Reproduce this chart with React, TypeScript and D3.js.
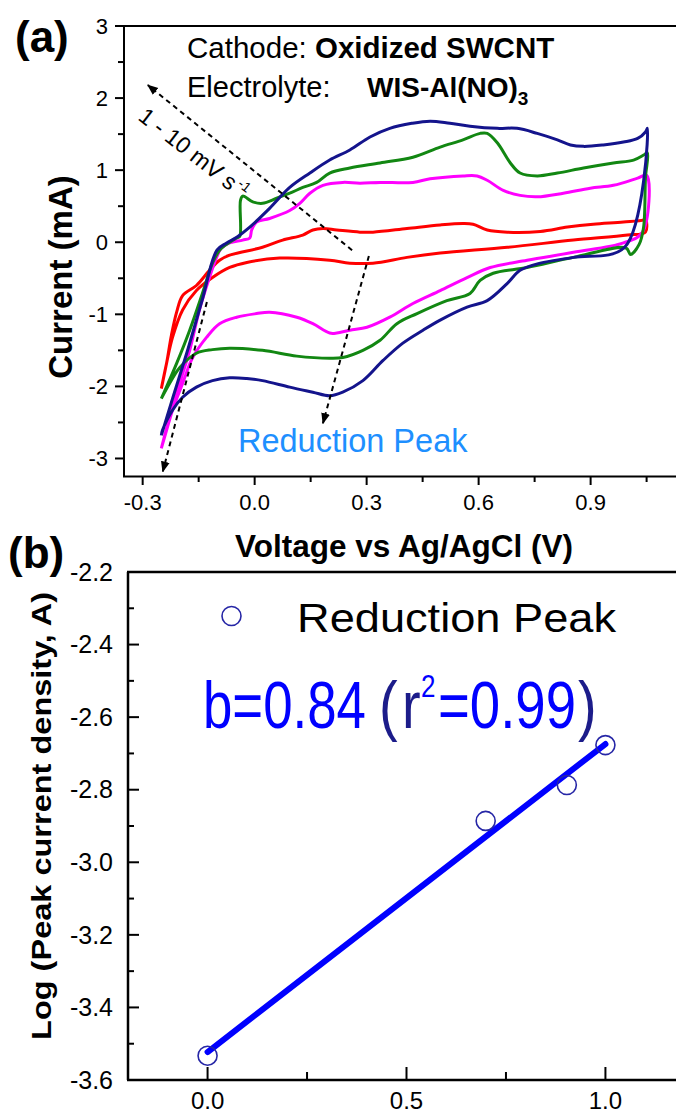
import React from "react";
import * as d3 from "d3";

// ---------- Panel (a): cyclic voltammograms (V vs Ag/AgCl, mA) ----------
// 1 mV/s (red)
const cv1V = [-0.25, -0.236, -0.223, -0.209, -0.193, -0.156, -0.121, -0.094, -0.067, 0.021, 0.075, 0.129, 0.156, 0.183, 0.22, 0.282, 0.317, 0.408, 0.497, 0.558, 0.585, 0.623, 0.677, 0.765, 0.838, 0.907, 0.988, 1.042, 1.047,
  1.047, 0.999, 0.854, 0.677, 0.497, 0.408, 0.317, 0.255, 0.201, 0.067, -0.021, -0.067, -0.113, -0.156, -0.193, -0.22, -0.236, -0.25];
const cv1I = [-2.03, -1.68, -1.29, -0.97, -0.74, -0.6, -0.39, -0.25, -0.18, -0.07, 0.03, 0.1, 0.17, 0.19, 0.17, 0.14, 0.14, 0.19, 0.24, 0.26, 0.25, 0.17, 0.14, 0.15, 0.21, 0.25, 0.28, 0.31, 0.33,
  0.14, 0.1, 0.03, -0.07, -0.15, -0.21, -0.29, -0.29, -0.25, -0.22, -0.28, -0.35, -0.49, -0.67, -0.94, -1.32, -1.68, -2.03];

// 5 mV/s (magenta)
const cv5V = [-0.25, -0.228, -0.201, -0.174, -0.148, -0.121, -0.102, -0.089, -0.067, -0.032, -0.013, -0.008, 0.005, 0.04, 0.094, 0.121, 0.148, 0.183, 0.236, 0.282, 0.336, 0.424, 0.47, 0.558, 0.596, 0.623, 0.666, 0.711, 0.757, 0.827, 0.899, 0.961, 1.026, 1.05,
  1.039, 0.988, 0.854, 0.73, 0.631, 0.569, 0.497, 0.424, 0.362, 0.301, 0.255, 0.22, 0.201, 0.156, 0.113, 0.04, 0.005, -0.048, -0.094, -0.129, -0.166, -0.193, -0.22, -0.236, -0.25];
const cv5I = [-2.86, -2.43, -1.96, -1.5, -0.94, -0.49, -0.21, -0.08, -0.01, 0.03, 0.06, 0.17, 0.28, 0.33, 0.44, 0.54, 0.68, 0.79, 0.83, 0.82, 0.83, 0.83, 0.88, 0.92, 0.92, 0.86, 0.72, 0.65, 0.63, 0.68, 0.75, 0.79, 0.89, 0.93,
  0.14, -0.01, -0.14, -0.25, -0.35, -0.49, -0.67, -0.85, -1.04, -1.18, -1.22, -1.26, -1.26, -1.13, -1.04, -0.97, -0.99, -1.04, -1.13, -1.32, -1.6, -1.96, -2.33, -2.61, -2.86];

// 8 mV/s (green)
const cv8V = [-0.25, -0.209, -0.174, -0.14, -0.113, -0.094, -0.067, -0.048, -0.04, -0.038, -0.032, -0.005, 0.021, 0.059, 0.094, 0.129, 0.166, 0.201, 0.255, 0.336, 0.424, 0.497, 0.558, 0.604, 0.623, 0.65, 0.685, 0.711, 0.757, 0.811, 0.881, 0.961, 1.015, 1.042, 1.052,
  1.047, 1.042, 1.03, 1.007, 0.995, 0.854, 0.73, 0.639, 0.604, 0.577, 0.515, 0.435, 0.381, 0.336, 0.29, 0.236, 0.201, 0.113, 0.021, -0.067, -0.113, -0.156, -0.201, -0.228, -0.25];
const cv8I = [-2.17, -1.68, -1.22, -0.71, -0.29, -0.11, 0.0, 0.06, 0.08, 0.58, 0.64, 0.56, 0.54, 0.61, 0.68, 0.76, 0.83, 0.96, 1.03, 1.1, 1.18, 1.32, 1.42, 1.51, 1.51, 1.38, 1.1, 0.96, 0.92, 0.96, 1.03, 1.1, 1.14, 1.21, 1.24,
  0.9, 0.21, -0.03, -0.17, -0.08, -0.21, -0.35, -0.43, -0.53, -0.71, -0.81, -0.99, -1.13, -1.36, -1.5, -1.6, -1.61, -1.58, -1.5, -1.47, -1.49, -1.54, -1.74, -1.96, -2.17];

// 10 mV/s (navy)
const cv10V = [-0.25, -0.22, -0.178, -0.141, -0.101, -0.075, -0.048, -0.013, 0.04, 0.094, 0.148, 0.201, 0.255, 0.309, 0.362, 0.421, 0.47, 0.523, 0.577, 0.65, 0.703, 0.757, 0.811, 0.846, 0.881, 0.934, 0.988, 1.026, 1.047, 1.052,
  0.991, 0.854, 0.765, 0.711, 0.677, 0.623, 0.569, 0.497, 0.451, 0.397, 0.344, 0.29, 0.236, 0.201, 0.156, 0.094, 0.021, -0.021, -0.067, -0.113, -0.156, -0.193, -0.22, -0.247, -0.25];
const cv10I = [-2.68, -2.17, -1.47, -0.81, -0.11, -0.01, 0.07, 0.21, 0.47, 0.76, 0.96, 1.14, 1.28, 1.46, 1.58, 1.65, 1.68, 1.65, 1.61, 1.58, 1.58, 1.51, 1.42, 1.35, 1.33, 1.35, 1.39, 1.44, 1.53, 1.58,
  -0.07, -0.21, -0.29, -0.39, -0.57, -0.81, -0.9, -1.08, -1.22, -1.4, -1.64, -1.92, -2.08, -2.13, -2.08, -2.01, -1.92, -1.89, -1.88, -1.92, -2.01, -2.15, -2.33, -2.61, -2.68];

const seriesColors = ["#ff0000", "#ff00ff", "#128712", "#14148c"];

// Axis ticks panel (a)
const aXMajor = [-0.3, 0, 0.3, 0.6, 0.9];
const aXLabels = ["-0.3", "0.0", "0.3", "0.6", "0.9"];
const aXMinor = [-0.15, 0.15, 0.45, 0.75, 1.05];
const aYMajor = [-3, -2, -1, 0, 1, 2, 3];
const aYLabels = ["-3", "-2", "-1", "0", "1", "2", "3"];
const aYMinor = [-2.5, -1.5, -0.5, 0.5, 1.5, 2.5];

// Annotation arrows (data coords of panel a): [x1, y1, x2(head), y2(head)]
const arrowRate = [0.261, -0.11, -0.286, 2.18];
const arrowPeak = [0.306, -0.19, 0.183, -2.51];
const arrowLow = [-0.128, -0.83, -0.246, -3.18];

// ---------- Panel (b): log peak current vs log scan rate ----------
const logScanRate = [0, 0.699, 0.903, 1.0];
const logPeakCurrent = [-3.533, -2.886, -2.787, -2.677];
const bXMajor = [0, 0.5, 1.0];
const bXLabels = ["0.0", "0.5", "1.0"];
const bXMinor = [0.25, 0.75];
const bYMajor = [-3.6, -3.4, -3.2, -3.0, -2.8, -2.6, -2.4, -2.2];
const bYLabels = ["-3.6", "-3.4", "-3.2", "-3.0", "-2.8", "-2.6", "-2.4", "-2.2"];
const bYMinor = [-3.5, -3.3, -3.1, -2.9, -2.7, -2.5, -2.3];

const FONT = "'Liberation Sans', Arial, Helvetica, sans-serif";

export default function App() {
  const xa = d3.scaleLinear().domain([-0.35, 1.2]).range([124, 702.6]);
  const ya = d3.scaleLinear().domain([-3.25, 3]).range([476.5, 26]);
  const xb = d3.scaleLinear().domain([-0.2, 1.2]).range([128, 685]);
  const yb = d3.scaleLinear().domain([-3.6, -2.2]).range([1080, 572]);

  const lineA = d3
    .line<[number, number]>()
    .x((d) => xa(d[0]))
    .y((d) => ya(d[1]))
    .curve(d3.curveCatmullRom.alpha(0.5));

  const curves = [
    [cv1V, cv1I],
    [cv5V, cv5I],
    [cv8V, cv8I],
    [cv10V, cv10I],
  ].map(([v, i]) => v.map((x, k) => [x, i[k]] as [number, number]));

  // least-squares fit
  const mx = d3.mean(logScanRate)!;
  const my = d3.mean(logPeakCurrent)!;
  let sxy = 0,
    sxx = 0;
  logScanRate.forEach((x, k) => {
    sxy += (x - mx) * (logPeakCurrent[k] - my);
    sxx += (x - mx) * (x - mx);
  });
  const slope = sxy / sxx;
  const icpt = my - slope * mx;
  const [fx0, fx1] = d3.extent(logScanRate) as [number, number];

  const arrow = (a: number[], key: string) => (
    <line
      key={key}
      x1={xa(a[0])}
      y1={ya(a[1])}
      x2={xa(a[2])}
      y2={ya(a[3])}
      stroke="#000"
      strokeWidth={2}
      strokeDasharray="5,4"
      markerEnd="url(#ah)"
    />
  );

  return (
    <div style={{ position: "absolute", left: 0, top: 0 }}>
      <svg width={676} height={1115} style={{ display: "block", background: "#fff" }} fontFamily={FONT}>
        <defs>
          <marker id="ah" viewBox="0 0 10 10" refX="9" refY="5" markerWidth="11" markerHeight="11" markerUnits="userSpaceOnUse" orient="auto">
            <path d="M0,1 L10,5 L0,9 Z" fill="#000" />
          </marker>
        </defs>

        {/* ===== Panel (a) ===== */}
        <text x={15} y={52} fontSize={44} fontWeight="bold">(a)</text>

        {curves.map((pts, k) => (
          <path key={k} d={lineA(pts) || ""} fill="none" stroke={seriesColors[k]} strokeWidth={3} strokeLinejoin="round" />
        ))}

        {arrow(arrowRate, "r")}
        {arrow(arrowPeak, "p")}
        {arrow(arrowLow, "l")}

        {/* axes a */}
        <line x1={124} y1={26} x2={124} y2={476.5} stroke="#000" strokeWidth={2} />
        <line x1={123} y1={26} x2={676} y2={26} stroke="#000" strokeWidth={2} />
        <line x1={123} y1={476.5} x2={676} y2={476.5} stroke="#000" strokeWidth={2} />
        {aYMajor.map((v, k) => (
          <g key={"ay" + k}>
            <line x1={115} x2={124} y1={ya(v)} y2={ya(v)} stroke="#000" strokeWidth={2} />
            <text x={108} y={ya(v)} dy="0.35em" textAnchor="end" fontSize={22}>{aYLabels[k]}</text>
          </g>
        ))}
        {aYMinor.map((v, k) => (
          <line key={"aym" + k} x1={118} x2={124} y1={ya(v)} y2={ya(v)} stroke="#000" strokeWidth={2} />
        ))}
        {aXMajor.map((v, k) => (
          <g key={"ax" + k}>
            <line x1={xa(v)} x2={xa(v)} y1={476.5} y2={485} stroke="#000" strokeWidth={2} />
            <text x={xa(v)} y={510} textAnchor="middle" fontSize={22}>{aXLabels[k]}</text>
          </g>
        ))}
        {aXMinor.map((v, k) => (
          <line key={"axm" + k} x1={xa(v)} x2={xa(v)} y1={476.5} y2={482} stroke="#000" strokeWidth={2} />
        ))}

        <text transform="translate(72,277) rotate(-90)" textAnchor="middle" fontSize={33} fontWeight="bold">Current (mA)</text>
        <text x={404} y={557} textAnchor="middle" fontSize={31.5} fontWeight="bold">Voltage vs Ag/AgCl (V)</text>

        <text x={187} y={58} fontSize={29.5}>
          Cathode: <tspan fontWeight="bold">Oxidized SWCNT</tspan>
        </text>
        <text x={187} y={97} fontSize={29}>Electrolyte:</text>
        <text x={367} y={97} fontSize={28} fontWeight="bold">
          WIS-Al(NO)<tspan fontSize={19} dy={8}>3</tspan>
        </text>

        <text transform="translate(137,119) rotate(38)" fontSize={23}>
          1 - 10 mV s<tspan fontSize={14} dx={2} dy={-9}>-1</tspan>
        </text>

        <text x={238} y={452} fontSize={32.5} fill="#1e8fff">Reduction Peak</text>

        {/* ===== Panel (b) ===== */}
        <text x={8} y={568} fontSize={44} fontWeight="bold">(b)</text>

        <line
          x1={xb(fx0)}
          y1={yb(icpt + slope * fx0)}
          x2={xb(fx1)}
          y2={yb(icpt + slope * fx1)}
          stroke="#0000ff"
          strokeWidth={6}
          strokeLinecap="round"
        />
        {logScanRate.map((x, k) => (
          <circle key={"pt" + k} cx={xb(x)} cy={yb(logPeakCurrent[k])} r={9.5} fill="none" stroke="#2626a6" strokeWidth={1.6} />
        ))}

        <line x1={128} y1={572} x2={128} y2={1080} stroke="#000" strokeWidth={2.5} />
        <line x1={127} y1={572} x2={676} y2={572} stroke="#000" strokeWidth={2.5} />
        <line x1={127} y1={1080} x2={676} y2={1080} stroke="#000" strokeWidth={2.5} />
        {bYMajor.map((v, k) => (
          <g key={"by" + k}>
            <line x1={128} x2={139} y1={yb(v)} y2={yb(v)} stroke="#000" strokeWidth={2} />
            <text x={113} y={yb(v)} dy="0.35em" textAnchor="end" fontSize={25}>{bYLabels[k]}</text>
          </g>
        ))}
        {bYMinor.map((v, k) => (
          <line key={"bym" + k} x1={128} x2={134} y1={yb(v)} y2={yb(v)} stroke="#000" strokeWidth={2} />
        ))}
        {bXMajor.map((v, k) => (
          <g key={"bx" + k}>
            <line x1={xb(v)} x2={xb(v)} y1={1080} y2={1067} stroke="#000" strokeWidth={2} />
            <text x={xb(v)} y={1109} textAnchor="middle" fontSize={24}>{bXLabels[k]}</text>
          </g>
        ))}
        {bXMinor.map((v, k) => (
          <line key={"bxm" + k} x1={xb(v)} x2={xb(v)} y1={1080} y2={1072} stroke="#000" strokeWidth={2} />
        ))}

        <text transform="translate(51,816) rotate(-90)" textAnchor="middle" fontSize={27} fontWeight="bold" textLength={448} lengthAdjust="spacingAndGlyphs">
          Log (Peak current density, A)
        </text>

        {/* legend */}
        <circle cx={231.5} cy={616} r={9.5} fill="none" stroke="#2626a6" strokeWidth={1.6} />
        <text x={297} y={632} fontSize={40} textLength={319} lengthAdjust="spacingAndGlyphs">Reduction Peak</text>

        {/* fit annotation */}
        <g transform="translate(0,728) scale(1,1.18)">
          <text x={203} y={0} fontSize={56} fill="#0000ff" textLength={163} lengthAdjust="spacingAndGlyphs">b=0.84</text>
          <text x={379} y={0} fontSize={56} fill="#1c1c8a">(</text>
          <text x={402} y={0} fontSize={56} fill="#1c1c8a">r</text>
          <text x={421} y={-26} fontSize={26} fill="#0000ff">2</text>
          <text x={438} y={0} fontSize={56} fill="#0000ff" textLength={138} lengthAdjust="spacingAndGlyphs">=0.99</text>
          <text x={578} y={0} fontSize={56} fill="#1c1c8a">)</text>
        </g>
      </svg>
    </div>
  );
}
